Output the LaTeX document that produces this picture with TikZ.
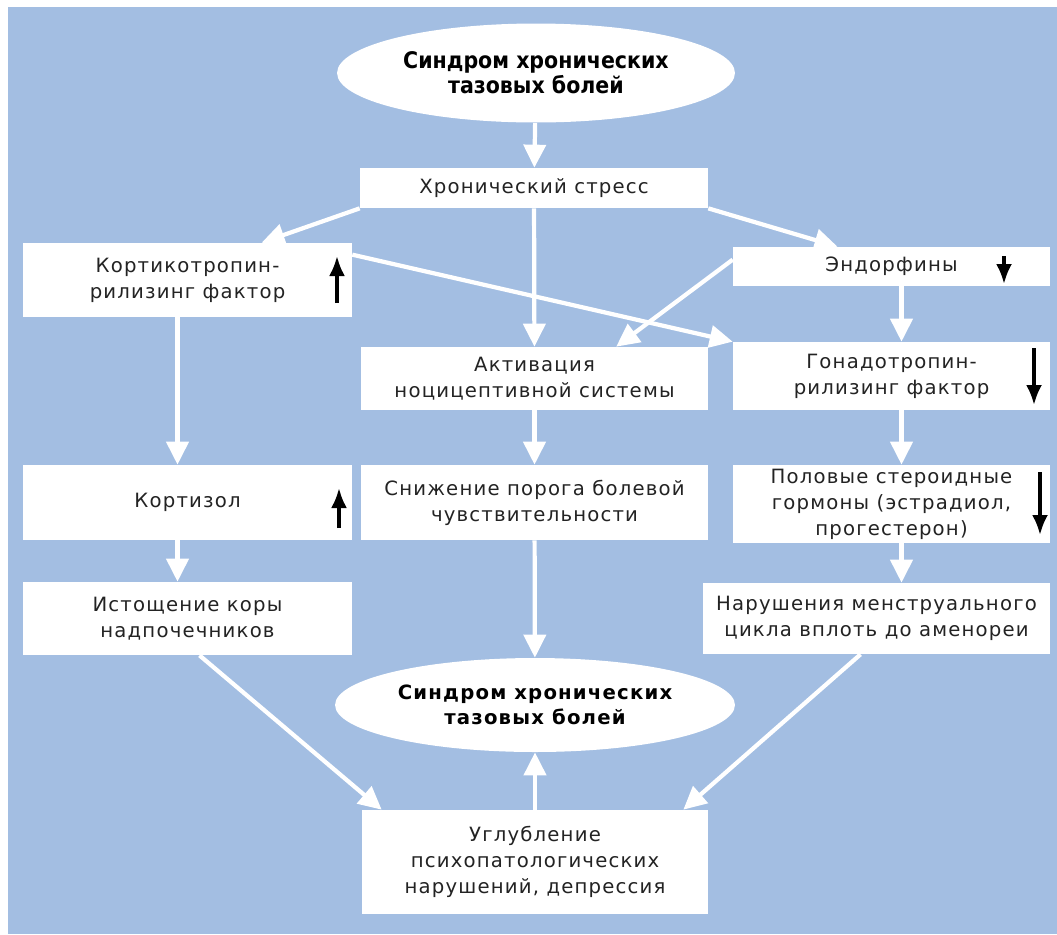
\documentclass[tikz,border=0pt]{standalone}
\usepackage{fontspec}
\usetikzlibrary{arrows.meta,shapes.geometric,calc}
\newfontfamily\boxfont[LetterSpace=6]{DejaVu Sans}
\newfontfamily\headfont{DejaVu Sans Condensed}
\newfontfamily\footfont[LetterSpace=6]{DejaVu Sans}
\definecolor{bgblue}{RGB}{163,190,226}
\definecolor{inkgray}{RGB}{35,35,35}
\begin{document}
\begin{tikzpicture}[x=0.02cm,y=-0.02cm]
\tikzset{box/.style = {fill=white,inner sep=2pt,align=center,text=inkgray,font=\boxfont\fontsize{11.2}{14.8}\selectfont}}
\tikzset{syndrome/.style = {ellipse,fill=white,inner sep=0pt,align=center,text=black}}
\tikzset{flow/.style = {white,line width=2.4pt,-{Triangle[length=0.46cm,width=0.44cm]}}}
\tikzset{trend/.style = {black,line width=2pt,-{Latex[length=0.4cm,width=0.32cm]}}}
\useasboundingbox (0,0) rectangle (1057,934);
\fill[bgblue] (8,7) rectangle (1057,934);
% syndrome on top and chronic stress
\node[syndrome,minimum width=7.96cm,minimum height=1.98cm,font=\headfont\bfseries\fontsize{13}{14.2}\selectfont] (top) at (536,73) {Синдром хронических\\тазовых болей};
\node[box,minimum width=6.96cm,minimum height=0.8cm] (stress) at (534,188) {Хронический стресс};
% left column
\node[box,minimum width=6.58cm,minimum height=1.48cm] (crf) at (187.5,280) {Кортикотропин-\\рилизинг фактор};
\node[box,minimum width=6.58cm,minimum height=1.5cm] (cort) at (187.5,502.5) {Кортизол};
\node[box,minimum width=6.58cm,minimum height=1.46cm] (adrenal) at (187.5,618.5) {Истощение коры\\надпочечников};
% middle column
\node[box,minimum width=6.94cm,minimum height=1.26cm] (activ) at (534.5,378.5) {Активация\\ноцицептивной системы};
\node[box,minimum width=6.94cm,minimum height=1.5cm] (thresh) at (534.5,502.5) {Снижение порога болевой\\чувствительности};
% right column
\node[box,minimum width=6.34cm,minimum height=0.78cm] (endo) at (891.5,266.5) {Эндорфины};
\node[box,minimum width=6.34cm,minimum height=1.36cm] (gnrh) at (891.5,376) {Гонадотропин-\\рилизинг фактор};
\node[box,minimum width=6.34cm,minimum height=1.56cm] (steroid) at (891.5,504) {Половые стероидные\\гормоны (эстрадиол,\\прогестерон)};
\node[box,minimum width=6.94cm,minimum height=1.42cm] (menst) at (876.5,618.5) {Нарушения менструального\\цикла вплоть до аменореи};
% syndrome at the bottom and depression
\node[syndrome,minimum width=8cm,minimum height=1.88cm,font=\footfont\bfseries\fontsize{11.2}{14.2}\selectfont] (bottom) at (535,705) {Синдром хронических\\тазовых болей};
\node[box,minimum width=6.92cm,minimum height=2.08cm] (depr) at (535,862) {Углубление\\психопатологических\\нарушений, депрессия};
% up and down marks
\draw[trend] (337,303) -- (337,256);
\draw[trend] (339,528) -- (339,488);
\draw[trend] (1004,256) -- (1004,284);
\draw[trend] (1034,348) -- (1034,405);
\draw[trend] (1040,472) -- (1040,535);
% connectors
\draw[flow] (top) -- (stress);
\draw[flow] (stress.south west) -- ($(crf.north)!0.45!(crf.north east)$);
\draw[flow] (stress.south east) -- ($(endo.north west)!0.33!(endo.north east)$);
\draw[flow] (stress) -- (activ);
\draw[flow] ($(crf.north east)+(0,12)$) -- (gnrh.north west);
\draw[flow] ($(endo.north west)+(0,13)$) -- ($(activ.north)!0.47!(activ.north east)$);
\draw[flow] ([xshift=-0.2cm]crf.south) -- ([xshift=-0.2cm]cort.north);
\draw[flow] ([xshift=-0.2cm]cort.south) -- ([xshift=-0.2cm]adrenal.north);
\draw[flow] (activ) -- (thresh);
\draw[flow] ([xshift=0.2cm]endo.south) -- ([xshift=0.2cm]gnrh.north);
\draw[flow] ([xshift=0.2cm]gnrh.south) -- ([xshift=0.2cm]steroid.north);
\draw[flow] ([xshift=0.2cm]steroid.south) -- ([xshift=0.2cm]steroid.south |- menst.north);
\draw[flow] (thresh) -- (bottom);
\draw[flow] (depr) -- (bottom);
\draw[flow] ($(adrenal.south)+(12,0)$) -- ($(depr.north west)+(20,0)$);
\draw[flow] ($(menst.south)+(-16,0)$) -- ($(depr.north east)+(-25,0)$);
\end{tikzpicture}
\end{document}
